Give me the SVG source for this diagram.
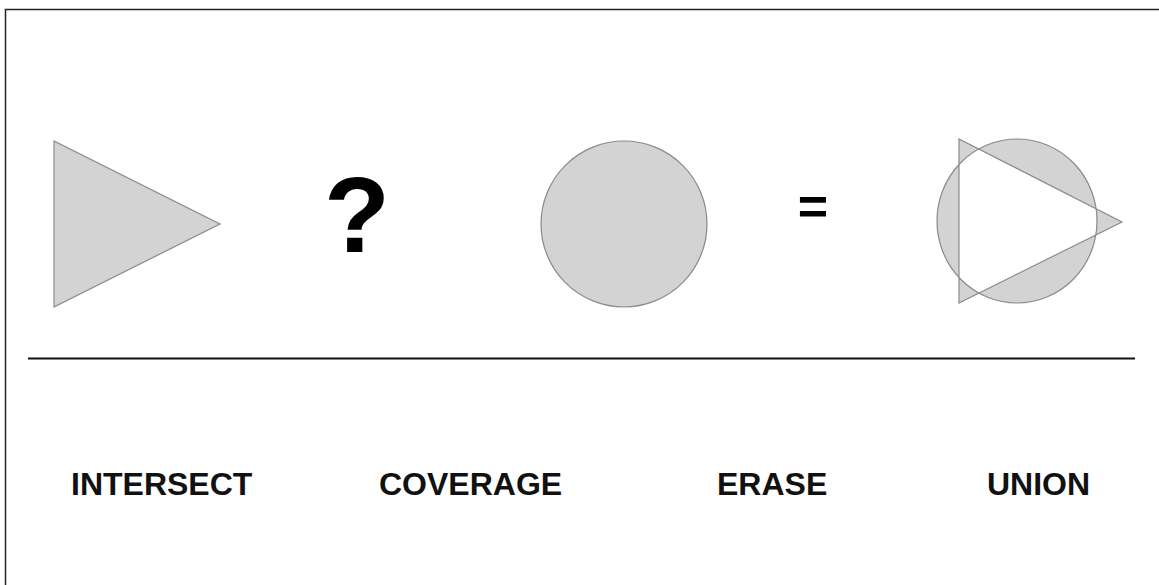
<svg xmlns="http://www.w3.org/2000/svg" width="1159" height="585" viewBox="0 0 1159 585">
<style>
.shape{fill:#d3d3d3;stroke:#8a8a8a;stroke-width:1.2}
.lbl{font-family:"Liberation Sans",Arial,sans-serif;font-weight:bold;font-size:32px;fill:#111}
.sym{font-family:"Liberation Sans",Arial,sans-serif;font-weight:bold;fill:#000}
</style>
<rect width="1159" height="585" fill="#fff"/>
<rect x="5.5" y="9.5" width="1160" height="600" fill="none" stroke="#222" stroke-width="1.5"/>
<g id="triangle"><polygon class="shape" points="54,141 54,307 220,224"/></g>
<g id="question"><text class="sym" x="357" y="252" font-size="108" text-anchor="middle">?</text></g>
<g id="circle"><circle class="shape" cx="624" cy="224" r="83"/></g>
<g id="equals"><text class="sym" x="813" y="224" font-size="52" text-anchor="middle">=</text></g>
<g id="union">
<path class="shape" fill-rule="evenodd" d="M937,221 a80,82 0 1,0 160,0 a80,82 0 1,0 -160,0 Z M959,139 L959,303 L1122,222 Z"/>
</g>
<g id="connectors"><line x1="28" y1="358.5" x2="1135" y2="358.5" stroke="#111" stroke-width="2"/></g>
<g id="labels">
<text class="lbl" x="71" y="495">INTERSECT</text>
<text class="lbl" x="379" y="495">COVERAGE</text>
<text class="lbl" x="717" y="495">ERASE</text>
<text class="lbl" x="987" y="495">UNION</text>
</g>
</svg>
